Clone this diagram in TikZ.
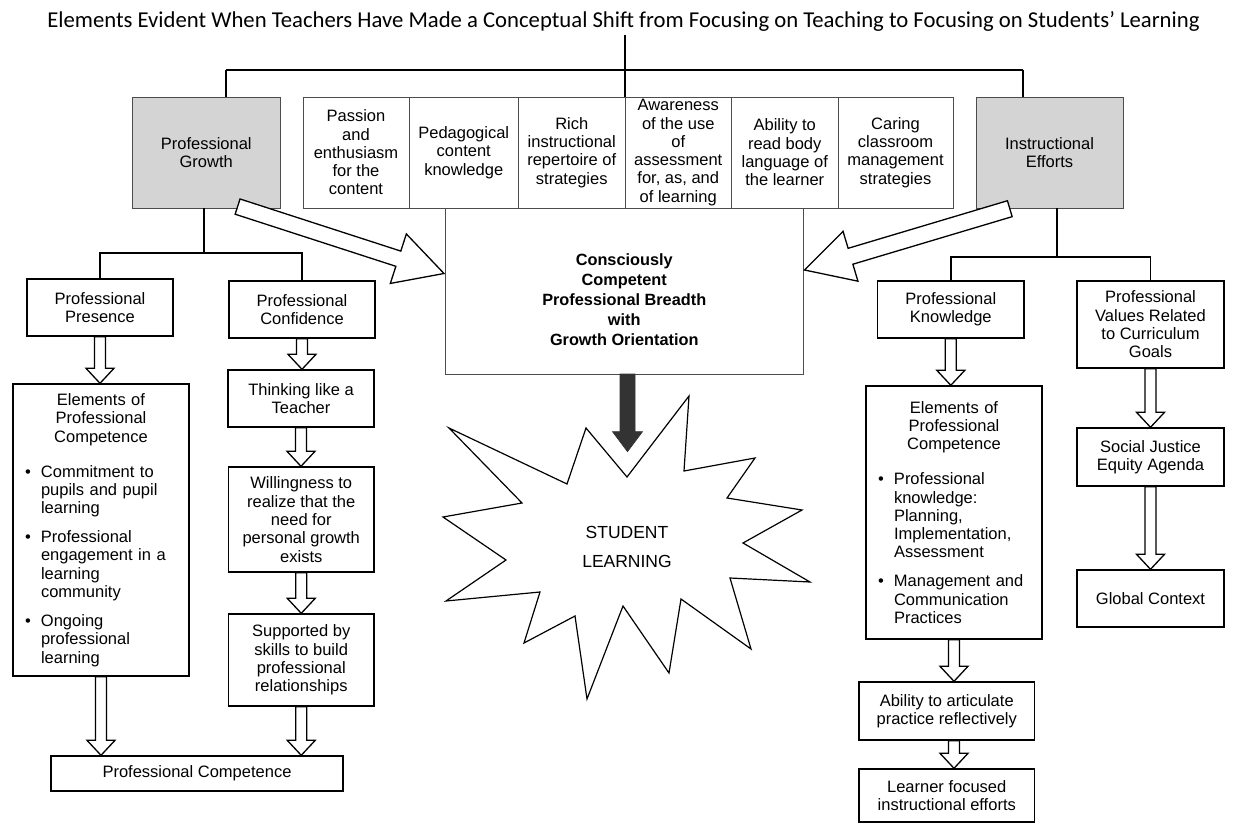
\documentclass[tikz,border=0pt]{standalone}
\usepackage{fontspec}
\setmainfont{Liberation Sans}
\newfontfamily\titlefont{Carlito}
\usetikzlibrary{calc}

\newcommand{\bodyfont}{\fontsize{16.5}{18.3}\selectfont}
% bullet paragraph with hanging indent
\newcommand{\bpoint}[1]{\par\vspace{10.7pt}\hangindent=16pt\hangafter=1\noindent\makebox[16pt][l]{\textbullet}#1\par}
% block arrow: style, from, to, shaft half width, head half width, head length
\newcommand{\blockarrow}[6]{%
  \coordinate (ba-s) at (#2);
  \coordinate (ba-t) at (#3);
  \coordinate (ba-h) at ($(ba-t)!#6!(ba-s)$);
  \draw[#1] ($(ba-s)!#4!90:(ba-t)$) -- ($(ba-h)!#4!90:(ba-t)$) -- ($(ba-h)!#5!90:(ba-t)$)
    -- (ba-t) -- ($(ba-h)!#5!-90:(ba-t)$) -- ($(ba-h)!#4!-90:(ba-t)$) -- ($(ba-s)!#4!-90:(ba-t)$) -- cycle;
}

\tikzset{
  box/.style={draw, line width=1.4pt, align=center, inner sep=1pt, font=\bodyfont},
  cell/.style={draw=black!70, line width=0.9pt, align=center, inner xsep=1pt, inner ysep=0pt,
    minimum height=111pt, outer sep=0pt, font=\bodyfont},
  shade/.style={cell, fill=black!17},
  link/.style={line width=1.4pt},
  hollow/.style={draw, fill=white, line width=1.3pt, line join=miter},
  darkarrow/.style={draw=black!80, fill=black!80, line width=0.6pt},
  burst/.style={draw, fill=white, line width=1.2pt, line join=miter},
}

\begin{document}
\begin{tikzpicture}[x=1pt,y=-1pt]
  \useasboundingbox (0,0) rectangle (1235,824);
  \node (title) [anchor=base, font=\titlefont\fontsize{22.7}{25}\selectfont] at (623.5,28)
    {Elements Evident When Teachers Have Made a Conceptual Shift from Focusing on Teaching to Focusing on Students’ Learning};

  % top row
  \node (pg) [shade, minimum width=148.5pt] at (206.25,152.5) {Professional\\Growth};
  \node (c1) [cell, minimum width=106pt] at (356,152.5) {Passion\\and\\enthusiasm\\for the\\content};
  \node (c2) [cell, minimum width=109.5pt] at (463.75,152.5) {Pedagogical\\content\\knowledge};
  \node (c3) [cell, minimum width=106.5pt] at (571.75,152.5) {Rich\\instructional\\repertoire of\\strategies};
  \node (c4) [cell, minimum width=106.5pt] at (678.25,152.5) {Awareness\\of the use\\of\\assessment\\for, as, and\\of learning};
  \node (c5) [cell, minimum width=106.5pt] at (784.75,152.5) {Ability to\\read body\\language of\\the learner};
  \node (c6) [cell, minimum width=115pt] at (895.5,152.5) {Caring\\classroom\\management\\strategies};
  \node (ie) [shade, minimum width=147pt] at (1049.5,152.5) {Instructional\\Efforts};

  \coordinate (barL) at (226,70);
  \coordinate (barR) at (1023,70);
  \draw[link] (c3.north east) -- (c3.north east |- title.south);
  \draw[link] (barL) -- (barL |- pg.north);
  \draw[link] (barR) -- (barR |- ie.north);
  \draw[line width=2.6pt] (barL) -- (barR);

  % centre
  \node (cb) [cell, minimum width=357.5pt, minimum height=166pt] at (624.25,291) {};
  \node (cbt) [align=center, font=\fontsize{16.3}{20}\selectfont\bfseries] at (624.25,300)
    {Consciously\\Competent\\Professional Breadth\\with\\Growth Orientation};

  % left branch
  \node (pp) [box, minimum width=146pt, minimum height=57pt] at (100,307.5) {Professional\\Presence};
  \node (pc) [box, minimum width=146pt, minimum height=57pt] at (302,309.5) {Professional\\Confidence};
  \node (el) [box, text width=152pt, inner xsep=12pt, align=left, minimum height=292pt] at (101,530)
    {{\centering Elements of\\Professional\\Competence\par}\vspace{6pt}
     \bpoint{Commitment to\newline pupils and pupil\newline learning}
     \bpoint{Professional\newline engagement in a\newline learning\newline community}
     \bpoint{Ongoing\newline professional\newline learning}};
  \node (th) [box, minimum width=146pt, minimum height=57pt] at (301,398.5) {Thinking like a\\Teacher};
  \node (wi) [box, minimum width=145.5pt, minimum height=105pt] at (301.25,519.5)
    {Willingness to\\realize that the\\need for\\personal growth\\exists};
  \node (su) [box, minimum width=145.5pt, minimum height=92pt] at (301.25,660)
    {Supported by\\skills to build\\professional\\relationships};
  \node (pcomp) [box, minimum width=292pt, minimum height=35pt] at (197,773.5) {Professional Competence};

  \coordinate (pgJ) at (204,253);
  \draw[link] (pgJ) -- (pgJ |- pg.south);
  \draw[link] (pp.north) |- (pgJ) -| (pc.north);

  % right branch
  \node (pk) [box, minimum width=146.4pt, minimum height=57pt] at (950.8,309.5) {Professional\\Knowledge};
  \node (pv) [box, minimum width=147pt, minimum height=87pt] at (1150.5,324.5)
    {Professional\\Values Related\\to Curriculum\\Goals};
  \node (er) [box, text width=152pt, inner xsep=12pt, align=left, minimum height=253pt] at (954,512.5)
    {{\centering Elements of\\Professional\\Competence\par}\vspace{6pt}
     \bpoint{Professional\newline knowledge:\newline Planning,\newline Implementation,\newline Assessment}
     \bpoint{Management and\newline Communication\newline Practices}};
  \node (sj) [box, minimum width=147pt, minimum height=58pt] at (1150.5,457) {Social Justice\\Equity Agenda};
  \node (gc) [box, minimum width=147pt, minimum height=57pt] at (1150.5,598.5) {Global Context};
  \node (ab) [box, minimum width=175.5pt, minimum height=58pt] at (946.75,711)
    {Ability to articulate\\practice reflectively};
  \node (le) [box, minimum width=175.5pt, minimum height=53pt] at (946.75,795.5)
    {Learner focused\\instructional efforts};

  \coordinate (ieJ) at (1057,257);
  \draw[link] (ieJ) -- (ieJ |- ie.south);
  \draw[link] (pk.north) |- (ieJ) -| (pv.north);

  % hollow arrows
  \blockarrow{hollow}{pp.south}{pp.south |- el.north}{5.5pt}{14pt}{15pt}
  \blockarrow{hollow}{el.south}{el.south |- pcomp.north}{5.5pt}{14pt}{15pt}
  \blockarrow{hollow}{pc.south}{pc.south |- th.north}{5.5pt}{14pt}{15pt}
  \blockarrow{hollow}{th.south}{th.south |- wi.north}{5.5pt}{14pt}{15pt}
  \blockarrow{hollow}{wi.south}{wi.south |- su.north}{5.5pt}{14pt}{15pt}
  \blockarrow{hollow}{su.south}{su.south |- pcomp.north}{5.5pt}{14pt}{15pt}
  \blockarrow{hollow}{pk.south}{pk.south |- er.north}{5.5pt}{14pt}{15pt}
  \blockarrow{hollow}{er.south}{er.south |- ab.north}{5.5pt}{14pt}{15pt}
  \blockarrow{hollow}{ab.south -| er.south}{le.north -| er.south}{5.5pt}{14pt}{15pt}
  \blockarrow{hollow}{pv.south}{pv.south |- sj.north}{5.5pt}{14pt}{15pt}
  \blockarrow{hollow}{sj.south}{sj.south |- gc.north}{5.5pt}{14pt}{15pt}

  % big diagonal arrows into the centre
  \coordinate (gtail) at (237.6,206.6);
  \coordinate (gtip) at (444,273.5);
  \coordinate (etail) at (1009.8,208.7);
  \coordinate (etip) at (804.5,270);
  \blockarrow{hollow}{gtail}{gtip}{8pt}{26pt}{48pt}
  \blockarrow{hollow}{etail}{etip}{8.3pt}{26pt}{48pt}

  % student learning
  \draw[burst] (449,428) -- (567,484) -- (586,428) -- (627,477) -- (689,396) -- (684,471)
    -- (755,458) -- (727,498) -- (802,510) -- (743,543) -- (810,582) -- (730,578)
    -- (751,649) -- (681,599) -- (669,673) -- (623,606) -- (587,699) -- (575,616)
    -- (524,643) -- (540,592) -- (446,601) -- (506,560) -- (443,517) -- (522,503) -- cycle;
  \node (sl) [align=center, font=\fontsize{17.5}{29}\selectfont] at (627,547) {STUDENT\\LEARNING};
  \coordinate (dtip) at (627.5,451.7);
  \blockarrow{darkarrow}{cb.south -| dtip}{dtip}{7.5pt}{15pt}{20pt}
\end{tikzpicture}
\end{document}
